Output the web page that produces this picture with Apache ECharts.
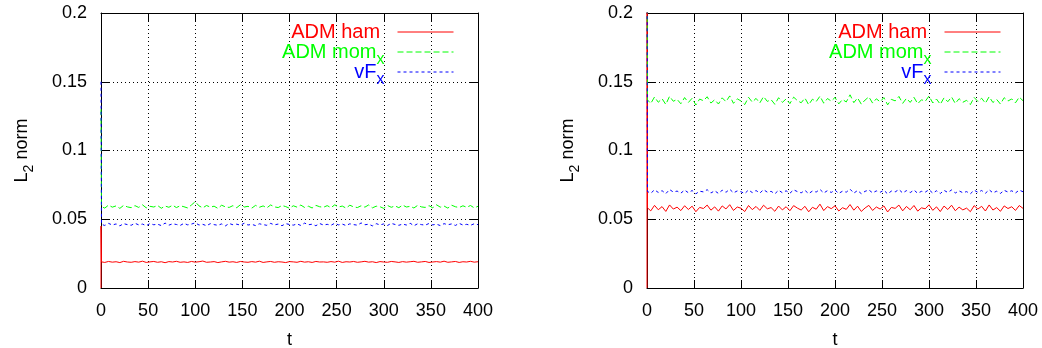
<!DOCTYPE html>
<html>
<head>
<meta charset="utf-8">
<script src="https://cdn.jsdelivr.net/npm/echarts@6/dist/echarts.min.js"></script>
<style>html,body{margin:0;padding:0;background:#fff}#c{width:1042px;height:348px}</style>
</head>
<body>
<div id="c"></div>
<script>
// ---- data ----
const xTicks = [0, 50, 100, 150, 200, 250, 300, 350, 400];
const yTicks = [0, 0.05, 0.1, 0.15, 0.2];
const seriesNames = ['ADM ham', 'ADM mom_x', 'vF_x'];
// sample times (t) of the values below
const sampleTimes = [];
for (let i = 0; i <= 100; i++) sampleTimes.push(i === 0 ? 0.5 : i * 4);

// initial transients at t = 0
const leftHamInit = [0, 0.045];
const leftMomInit = [0.13];
const leftVfInit = [0.15];
const rightHamInit = [0, 0.25];
const rightMomInit = [0.25];
const rightVfInit = [0.25];

const leftHam = [0.0190,0.0186,0.0193,0.0188,0.0191,0.0185,0.0194,0.0189,0.0187,0.0192,
0.0188,0.0195,0.0186,0.0190,0.0193,0.0187,0.0191,0.0184,0.0192,0.0189,
0.0194,0.0187,0.0190,0.0186,0.0193,0.0188,0.0191,0.0196,0.0187,0.0189,
0.0192,0.0185,0.0190,0.0194,0.0188,0.0191,0.0186,0.0193,0.0189,0.0187,
0.0192,0.0188,0.0195,0.0186,0.0190,0.0193,0.0187,0.0191,0.0189,0.0185,
0.0192,0.0190,0.0187,0.0194,0.0188,0.0191,0.0186,0.0193,0.0189,0.0190,
0.0187,0.0192,0.0188,0.0195,0.0186,0.0191,0.0189,0.0193,0.0187,0.0190,
0.0194,0.0188,0.0191,0.0185,0.0192,0.0189,0.0187,0.0193,0.0190,0.0186,
0.0192,0.0188,0.0191,0.0194,0.0187,0.0190,0.0193,0.0186,0.0189,0.0192,
0.0188,0.0195,0.0187,0.0190,0.0193,0.0186,0.0191,0.0189,0.0194,0.0188,
0.0191];
const leftMom = [0.0592,0.0581,0.0603,0.0588,0.0597,0.0579,0.0601,0.0590,0.0584,0.0599,
0.0586,0.0605,0.0583,0.0594,0.0589,0.0600,0.0580,0.0596,0.0587,0.0602,
0.0585,0.0598,0.0591,0.0582,0.0604,0.0628,0.0597,0.0583,0.0600,0.0588,
0.0595,0.0579,0.0602,0.0590,0.0586,0.0599,0.0584,0.0606,0.0589,0.0594,
0.0581,0.0601,0.0587,0.0597,0.0583,0.0604,0.0590,0.0585,0.0600,0.0592,
0.0580,0.0598,0.0588,0.0603,0.0586,0.0595,0.0582,0.0601,0.0591,0.0587,
0.0599,0.0584,0.0605,0.0589,0.0596,0.0581,0.0602,0.0590,0.0585,0.0598,
0.0588,0.0604,0.0583,0.0595,0.0591,0.0579,0.0600,0.0587,0.0597,0.0584,
0.0603,0.0589,0.0594,0.0582,0.0601,0.0590,0.0586,0.0599,0.0583,0.0605,
0.0588,0.0596,0.0581,0.0602,0.0591,0.0585,0.0598,0.0587,0.0600,0.0583,
0.0594];
const leftVf = [0.0463,0.0455,0.0470,0.0458,0.0466,0.0452,0.0468,0.0461,0.0456,0.0471,
0.0459,0.0465,0.0453,0.0469,0.0460,0.0464,0.0454,0.0472,0.0457,0.0467,
0.0462,0.0455,0.0470,0.0459,0.0465,0.0474,0.0458,0.0463,0.0453,0.0468,
0.0461,0.0456,0.0466,0.0452,0.0469,0.0460,0.0464,0.0457,0.0471,0.0458,
0.0463,0.0454,0.0467,0.0461,0.0456,0.0470,0.0459,0.0465,0.0453,0.0468,
0.0462,0.0457,0.0466,0.0455,0.0472,0.0460,0.0464,0.0453,0.0469,0.0458,
0.0463,0.0456,0.0471,0.0459,0.0465,0.0454,0.0467,0.0461,0.0457,0.0473,
0.0460,0.0464,0.0452,0.0468,0.0459,0.0466,0.0455,0.0470,0.0462,0.0456,
0.0465,0.0458,0.0471,0.0453,0.0467,0.0461,0.0457,0.0469,0.0459,0.0464,
0.0454,0.0468,0.0460,0.0466,0.0455,0.0470,0.0458,0.0463,0.0456,0.0467,
0.0461];
const rightMom = [0.1368,0.1342,0.1389,0.1351,0.1377,0.1335,0.1394,0.1358,0.1372,0.1340,
0.1385,0.1349,0.1380,0.1331,0.1374,0.1362,0.1391,0.1345,0.1369,0.1338,
0.1383,0.1355,0.1397,0.1343,0.1376,0.1360,0.1334,0.1387,0.1352,0.1379,
0.1346,0.1392,0.1357,0.1370,0.1336,0.1384,0.1350,0.1375,0.1341,0.1388,
0.1363,0.1347,0.1381,0.1333,0.1373,0.1356,0.1395,0.1344,0.1378,0.1359,
0.1386,0.1339,0.1371,0.1353,0.1405,0.1348,0.1382,0.1337,0.1367,0.1390,
0.1345,0.1376,0.1354,0.1385,0.1332,0.1372,0.1361,0.1393,0.1343,0.1379,
0.1350,0.1387,0.1340,0.1369,0.1358,0.1396,0.1346,0.1374,0.1336,0.1383,
0.1355,0.1389,0.1342,0.1377,0.1351,0.1365,0.1334,0.1386,0.1357,0.1380,
0.1344,0.1391,0.1349,0.1371,0.1338,0.1384,0.1360,0.1375,0.1347,0.1388,
0.1362];
const rightVf = [0.0702,0.0689,0.0714,0.0695,0.0708,0.0686,0.0716,0.0698,0.0705,0.0690,
0.0712,0.0693,0.0709,0.0685,0.0704,0.0699,0.0715,0.0691,0.0707,0.0688,
0.0711,0.0696,0.0718,0.0692,0.0706,0.0700,0.0687,0.0713,0.0694,0.0709,
0.0690,0.0715,0.0697,0.0703,0.0685,0.0711,0.0693,0.0707,0.0689,0.0714,
0.0701,0.0692,0.0710,0.0686,0.0705,0.0698,0.0717,0.0691,0.0708,0.0695,
0.0712,0.0688,0.0704,0.0697,0.0719,0.0690,0.0709,0.0686,0.0703,0.0713,
0.0692,0.0706,0.0696,0.0711,0.0684,0.0705,0.0699,0.0716,0.0691,0.0708,
0.0694,0.0712,0.0689,0.0703,0.0697,0.0715,0.0690,0.0707,0.0687,0.0710,
0.0695,0.0713,0.0691,0.0706,0.0693,0.0701,0.0685,0.0711,0.0696,0.0709,
0.0689,0.0714,0.0692,0.0704,0.0688,0.0710,0.0698,0.0707,0.0691,0.0712,
0.0700];
const rightHam = [0.0583,0.0561,0.0601,0.0569,0.0592,0.0557,0.0604,0.0574,0.0588,0.0563,
0.0598,0.0571,0.0595,0.0555,0.0586,0.0578,0.0603,0.0566,0.0590,0.0559,
0.0597,0.0575,0.0606,0.0564,0.0589,0.0580,0.0556,0.0600,0.0570,0.0593,
0.0565,0.0602,0.0576,0.0585,0.0558,0.0596,0.0568,0.0591,0.0562,0.0599,
0.0581,0.0567,0.0594,0.0554,0.0587,0.0573,0.0610,0.0563,0.0592,0.0577,
0.0598,0.0560,0.0584,0.0572,0.0607,0.0566,0.0595,0.0557,0.0582,0.0601,
0.0564,0.0589,0.0574,0.0597,0.0553,0.0586,0.0579,0.0603,0.0561,0.0593,
0.0569,0.0600,0.0559,0.0583,0.0576,0.0605,0.0565,0.0590,0.0556,0.0596,
0.0571,0.0602,0.0562,0.0588,0.0568,0.0581,0.0555,0.0599,0.0574,0.0594,
0.0560,0.0604,0.0567,0.0585,0.0558,0.0597,0.0578,0.0591,0.0564,0.0600,
0.0579];

// ---- chart ----
const FONT = 'Liberation Sans, Arial, sans-serif';
const RED = '#ff0000', GREEN = '#00ff00', BLUE = '#0000ff';
const chart = echarts.init(document.getElementById('c'), null, {renderer: 'canvas'});

function build(init, vals) {
  return init.map(v => [0, v]).concat(vals.map((v, i) => [sampleTimes[i], v]));
}

const gridsPos = [{left: 101, width: 377}, {left: 647, width: 376}];

function xAxes(gi) {
  const base = {
    type: 'value', gridIndex: gi, min: xTicks[0], max: xTicks[xTicks.length - 1], interval: 50,
    axisLine: {show: true, onZero: false, lineStyle: {color: '#000', width: 1}},
    axisTick: {show: true, inside: true, length: 8, lineStyle: {color: '#000'}}
  };
  return [
    Object.assign({}, base, {
      position: 'bottom',
      name: 't', nameLocation: 'middle', nameGap: 43,
      nameTextStyle: {color: '#000', fontSize: 18, fontFamily: FONT},
      axisLabel: {color: '#000', fontSize: 18, fontFamily: FONT, margin: 14},
      splitLine: {show: true, lineStyle: {color: '#000', width: 1, type: [1, 3]}}
    }),
    Object.assign({}, base, {position: 'top', axisLabel: {show: false}, splitLine: {show: false}})
  ];
}
function yAxes(gi) {
  const base = {
    type: 'value', gridIndex: gi, min: yTicks[0], max: yTicks[yTicks.length - 1], interval: 0.05,
    axisLine: {show: true, onZero: false, lineStyle: {color: '#000', width: 1}},
    axisTick: {show: true, inside: true, length: 8, lineStyle: {color: '#000'}}
  };
  return [
    Object.assign({}, base, {
      position: 'left',
      name: '{a|L}{b|2}{a| norm}', nameLocation: 'middle', nameGap: 68, nameRotate: 90,
      nameTextStyle: {color: '#000', fontFamily: FONT,
        rich: {a: {fontSize: 18, fontFamily: FONT, color: '#000', verticalAlign: 'top', lineHeight: 20},
               b: {fontSize: 14, fontFamily: FONT, color: '#000', verticalAlign: 'top', lineHeight: 14, padding: [9, 0, 0, 0]}}},
      axisLabel: {color: '#000', fontSize: 18, fontFamily: FONT, margin: 14},
      splitLine: {show: true, lineStyle: {color: '#000', width: 1, type: [1, 3]}}
    }),
    Object.assign({}, base, {position: 'right', axisLabel: {show: false}, splitLine: {show: false}})
  ];
}

function mainStyle(c) { return {color: c, fontSize: 20, fontFamily: FONT, verticalAlign: 'top', lineHeight: 20}; }
function subStyle(c) { return {color: c, fontSize: 16, fontFamily: FONT, verticalAlign: 'top', lineHeight: 12, padding: [10, 8, 0, 0]}; }
const legendRich = {
  r: mainStyle(RED), rs: subStyle(RED),
  g: mainStyle(GREEN), gs: subStyle(GREEN),
  b: mainStyle(BLUE), bs: subStyle(BLUE)
};
function legendFmt(name) {
  if (name === 'ADM ham') return '{r|ADM ham}{rs| }';
  if (name === 'ADM mom_x') return '{g|ADM mom}{gs|x}';
  return '{b|vF}{bs|x}';
}
function legend(right) {
  return {
    orient: 'vertical', align: 'right', right: right, top: 22, padding: 0,
    itemWidth: 56, itemHeight: 14, itemGap: -6,
    selectedMode: false,
    data: seriesNames,
    formatter: legendFmt,
    textStyle: {fontFamily: FONT, fontSize: 20, rich: legendRich},
    itemStyle: {opacity: 0, borderWidth: 0},
    lineStyle: {width: 1}
  };
}

function lineSeries(name, color, dash, xi, yi, data) {
  return {
    name: name, type: 'line', xAxisIndex: xi, yAxisIndex: yi, data: data,
    showSymbol: false, symbol: 'none', animation: false, clip: true,
    lineStyle: {color: color, width: 1, type: dash}, itemStyle: {color: color}
  };
}

const option = {
  backgroundColor: '#fff',
  animation: false,
  textStyle: {fontFamily: FONT},
  grid: [
    {left: gridsPos[0].left, width: gridsPos[0].width, top: 13, height: 275, containLabel: false, outerBoundsMode: 'none'},
    {left: gridsPos[1].left, width: gridsPos[1].width, top: 13, height: 275, containLabel: false, outerBoundsMode: 'none'}
  ],
  legend: [legend(588), legend(41)],
  xAxis: xAxes(0).concat(xAxes(1)),
  yAxis: yAxes(0).concat(yAxes(1)),
  series: [
    lineSeries('ADM ham', RED, 'solid', 0, 0, build(leftHamInit, leftHam)),
    lineSeries('ADM mom_x', GREEN, [6, 3], 0, 0, build(leftMomInit, leftMom)),
    lineSeries('vF_x', BLUE, [3, 3], 0, 0, build(leftVfInit, leftVf)),
    lineSeries('ADM ham', RED, 'solid', 2, 2, build(rightHamInit, rightHam)),
    lineSeries('ADM mom_x', GREEN, [6, 3], 2, 2, build(rightMomInit, rightMom)),
    lineSeries('vF_x', BLUE, [3, 3], 2, 2, build(rightVfInit, rightVf))
  ]
};
chart.setOption(option);
</script>
</body>
</html>
